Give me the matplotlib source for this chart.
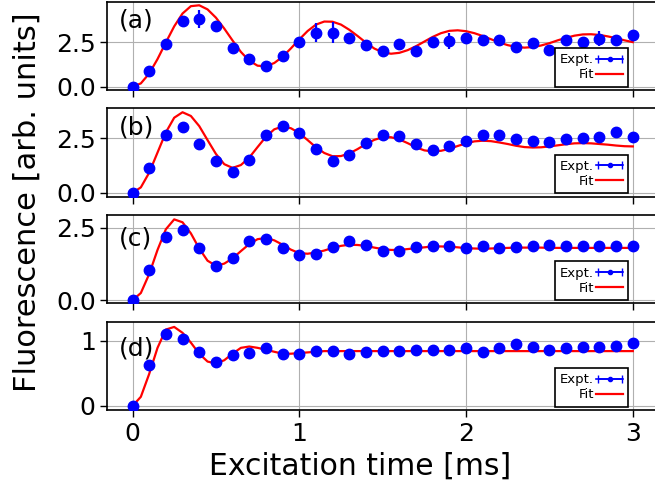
import numpy as np
import matplotlib
matplotlib.use("Agg")
import matplotlib.pyplot as plt
from matplotlib.legend_handler import HandlerErrorbar
from matplotlib.container import ErrorbarContainer

# measurement times [ms]
t_data = np.round(np.arange(0, 3.01, 0.1), 2)
# fit sampled times [ms]
t_fit = np.round(np.arange(0, 3.001, 0.05), 3)

# (a)
y_a = [0, 0.9, 2.41, 3.69, 3.78, 3.39, 2.16, 1.56, 1.15, 1.75, 2.52,
       3.03, 3.03, 2.75, 2.32, 2.0, 2.37, 2.03, 2.5, 2.56, 2.73,
       2.64, 2.64, 2.22, 2.45, 2.07, 2.64, 2.5, 2.7, 2.6, 2.92]
err_a = [0.1, 0.15, 0.15, 0.15, 0.5, 0.15, 0.15, 0.15, 0.15, 0.15, 0.15,
         0.55, 0.6, 0.15, 0.15, 0.15, 0.15, 0.15, 0.2, 0.45, 0.3,
         0.27, 0.15, 0.15, 0.15, 0.15, 0.25, 0.2, 0.4, 0.25, 0.15]
fit_a = [0, 0.19, 0.74, 1.55, 2.48, 3.38, 4.10, 4.51, 4.56, 4.33, 3.87,
         3.26, 2.59, 1.95, 1.46, 1.18, 1.15, 1.33, 1.68, 2.15, 2.65,
         3.12, 3.48, 3.65, 3.64, 3.48, 3.19, 2.84, 2.47, 2.14, 1.93,
         1.85, 1.90, 2.05, 2.27, 2.53, 2.79, 3.00, 3.13, 3.16, 3.11,
         3.00, 2.84, 2.66, 2.48, 2.33, 2.23, 2.19, 2.22, 2.31, 2.44,
         2.60, 2.74, 2.86, 2.93, 2.94, 2.90, 2.82, 2.72, 2.60, 2.50]

# (b)
y_b = [0, 1.14, 2.65, 3.0, 2.24, 1.44, 0.95, 1.48, 2.62, 3.03, 2.73,
       2.0, 1.47, 1.74, 2.27, 2.65, 2.6, 2.24, 1.97, 2.15, 2.38,
       2.62, 2.65, 2.47, 2.35, 2.32, 2.45, 2.5, 2.53, 2.8, 2.53]
err_b = [0.05, 0.1, 0.1, 0.1, 0.1, 0.1, 0.1, 0.1, 0.1, 0.1, 0.1,
         0.1, 0.1, 0.1, 0.1, 0.1, 0.1, 0.1, 0.1, 0.1, 0.1,
         0.1, 0.1, 0.1, 0.1, 0.1, 0.1, 0.25, 0.1, 0.1, 0.1]
fit_b = [0, 0.25, 0.92, 1.84, 2.76, 3.43, 3.68, 3.51, 3.05, 2.41, 1.78,
         1.31, 1.14, 1.27, 1.61, 2.09, 2.56, 2.90, 3.03, 2.95, 2.73,
         2.41, 2.08, 1.82, 1.67, 1.68, 1.80, 2.00, 2.23, 2.42, 2.54,
         2.54, 2.44, 2.27, 2.08, 1.94, 1.89, 1.92, 2.01, 2.14, 2.26,
         2.35, 2.38, 2.36, 2.30, 2.23, 2.15, 2.09, 2.07, 2.08, 2.12,
         2.17, 2.22, 2.26, 2.27, 2.26, 2.23, 2.20, 2.16, 2.13, 2.12]

# (c)
y_c = [0, 1.03, 2.17, 2.42, 1.79, 1.19, 1.45, 2.02, 2.11, 1.79, 1.54,
       1.6, 1.82, 2.04, 1.91, 1.71, 1.71, 1.82, 1.87, 1.88, 1.79,
       1.86, 1.79, 1.84, 1.85, 1.91, 1.87, 1.87, 1.88, 1.88, 1.88]
err_c = [0.05] * 31
fit_c = [0, 0.25, 0.90, 1.73, 2.44, 2.78, 2.68, 2.30, 1.78, 1.36, 1.19,
         1.26, 1.44, 1.69, 1.93, 2.10, 2.14, 2.06, 1.91, 1.74, 1.62,
         1.60, 1.64, 1.71, 1.80, 1.87, 1.91, 1.90, 1.87, 1.81, 1.76,
         1.73, 1.73, 1.76, 1.79, 1.82, 1.85, 1.85, 1.84, 1.82, 1.79,
         1.78, 1.77, 1.78, 1.79, 1.80, 1.81, 1.81, 1.81, 1.81, 1.80,
         1.80, 1.80, 1.80, 1.80, 1.80, 1.80, 1.80, 1.80, 1.80, 1.80]

# (d)
y_d = [0, 0.62, 1.10, 1.03, 0.83, 0.68, 0.78, 0.81, 0.88, 0.79, 0.80,
       0.84, 0.84, 0.80, 0.83, 0.84, 0.84, 0.85, 0.85, 0.85, 0.88,
       0.83, 0.88, 0.95, 0.90, 0.86, 0.89, 0.91, 0.91, 0.92, 0.96]
err_d = [0.03] * 31
fit_d = [0, 0.14, 0.49, 0.89, 1.17, 1.21, 1.12, 0.97, 0.80, 0.68, 0.65,
         0.70, 0.80, 0.89, 0.91, 0.89, 0.86, 0.83, 0.80, 0.80, 0.81,
         0.82, 0.83, 0.84, 0.84, 0.84, 0.84, 0.84, 0.84, 0.84, 0.84,
         0.84, 0.84, 0.84, 0.84, 0.84, 0.84, 0.84, 0.84, 0.84, 0.84,
         0.84, 0.84, 0.84, 0.84, 0.84, 0.84, 0.84, 0.84, 0.84, 0.84,
         0.84, 0.84, 0.84, 0.84, 0.84, 0.84, 0.84, 0.84, 0.84, 0.84]

panels = [
    ("(a)", y_a, err_a, fit_a, (-0.19, 4.76), [0, 2.5], ["0.0", "2.5"], 0.79),
    ("(b)", y_b, err_b, fit_b, (-0.18, 3.86), [0, 2.5], ["0.0", "2.5"], 0.785),
    ("(c)", y_c, err_c, fit_c, (-0.11, 2.93), [0, 2.5], ["0.0", "2.5"], 0.74),
    ("(d)", y_d, err_d, fit_d, (-0.065, 1.29), [0, 1], ["0", "1"], 0.70),
]

fig = plt.figure(figsize=(6.55, 4.87), dpi=100)
bottoms = [0.8148, 0.5959, 0.3768, 0.1577]
left, width, height = 0.1641, 0.8402, 0.1817

for i, (lab, y, err, fit, ylim, yt, ytl, ty) in enumerate(panels):
    ax = fig.add_axes([left, bottoms[i], width, height])
    ax.grid(True, color="#b0b0b0", linewidth=0.8)
    ax.set_axisbelow(True)
    ax.errorbar(t_data, y, yerr=err, fmt="o", color="b", markersize=7.5,
                elinewidth=1.6, capsize=0, zorder=3)
    ax.plot(t_fit, fit, color="r", linewidth=1.6, zorder=2)
    # legend handle only
    h_exp = ax.errorbar([np.nan], [np.nan], xerr=[0.1], fmt=".-", color="b",
                        markersize=6, linewidth=1.2, capsize=3)
    h_fit, = ax.plot([], [], color="r", linewidth=1.6)
    leg = ax.legend([h_exp, h_fit], ["Expt.", "Fit"], loc="lower right",
                    bbox_to_anchor=(0.946, 0.04), fontsize=9.5,
                    markerfirst=False, fancybox=False, framealpha=1,
                    edgecolor="black", borderpad=0.4, labelspacing=0.15,
                    handletextpad=0.2, borderaxespad=0.0, handlelength=2.0,
                    handler_map={ErrorbarContainer: HandlerErrorbar(xerr_size=0.9)})
    leg.get_frame().set_linewidth(1.2)
    ax.set_xlim(-0.15, 3.15)
    ax.set_ylim(*ylim)
    ax.set_yticks(yt)
    ax.set_yticklabels(ytl)
    ax.set_xticks([0, 1, 2, 3])
    ax.tick_params(labelsize=18, length=5, width=1)
    if i < 3:
        ax.tick_params(labelbottom=False)
    for s in ax.spines.values():
        s.set_linewidth(1.2)
    ax.text(0.02, ty, lab, transform=ax.transAxes, fontsize=18, va="center",
            ha="left")

fig.text(0.041, 0.585, "Fluorescence [arb. units]", rotation=90,
         fontsize=22, va="center", ha="center")
fig.text(0.5496, 0.043, "Excitation time [ms]", fontsize=21.5,
         va="center", ha="center")

fig.savefig("out.png", dpi=100)
